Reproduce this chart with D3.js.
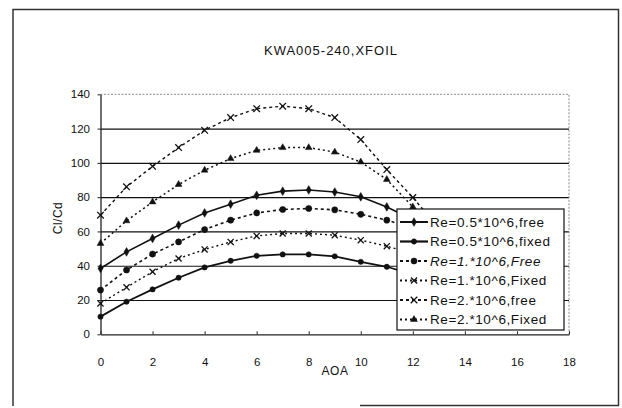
<!DOCTYPE html>
<html lang="en">
 <head>
  <meta charset="utf-8">
  <title>KWA005-240, XFOIL</title>
  <style>
    body { margin: 0; background: #fff; }
    text { font-family: Arial, "Liberation Sans", sans-serif; fill: #111; }
    .title { font-size: 13px; letter-spacing: 1px; text-anchor: middle; }
    .axis-title { font-size: 12px; text-anchor: middle; letter-spacing: 0.5px; }
    .axis text { font-size: 11.5px; font-family: Arial, "Liberation Sans", sans-serif; fill: #111; }
    .axis path, .axis line { stroke: #222; }
    .grid line { stroke: #111; stroke-width: 1.2; }
    .grid path { display: none; }
    .legend-text { font-size: 13.5px; letter-spacing: 0.6px; }
  </style>
 </head>
 <body>
  <div id="chart"></div>
  <script src="https://cdn.jsdelivr.net/npm/d3@7"></script>
  <script>

    // chart values
    var aoa = [0, 1, 2, 3, 4, 5, 6, 7, 8, 9, 10, 11, 12, 13];
    var xTicks = [0, 2, 4, 6, 8, 10, 12, 14, 16, 18];
    var yTicks = [0, 20, 40, 60, 80, 100, 120, 140];

    var re05Free  = [38.4, 48.1, 55.9, 63.7, 70.8, 75.9, 81.1, 83.5, 84.2, 83.0, 80.2, 74.3, 67.0];
    var re05Fixed = [10.3, 19.0, 26.2, 33.0, 39.0, 42.9, 45.8, 46.6, 46.6, 45.5, 42.3, 39.4, 35.0];
    var re1Free   = [25.8, 37.5, 46.8, 53.9, 61.1, 66.6, 70.8, 72.8, 73.4, 72.6, 70.0, 66.6, 62.0];
    var re1Fixed  = [18.0, 27.4, 36.5, 44.2, 49.5, 53.9, 57.4, 58.8, 58.8, 57.8, 54.9, 51.4, 47.0];
    var re2Free   = [69.5, 86.0, 98.0, 108.9, 119.0, 126.4, 131.6, 133.1, 131.6, 126.4, 113.6, 96.1, 79.8, 62.0];
    var re2Fixed  = [53.0, 66.2, 77.2, 87.4, 95.7, 102.5, 107.3, 108.9, 108.9, 106.3, 100.5, 90.3, 74.3, 57.0];

    var seriesNames = ["Re=0.5*10^6,free", "Re=0.5*10^6,fixed", "Re=1.*10^6,Free",
                       "Re=1.*10^6,Fixed", "Re=2.*10^6,free", "Re=2.*10^6,Fixed"];

    var series = [
      {name: seriesNames[0], values: re05Free,  dash: null,  width: 1.6, symbol: d3.symbolDiamond,  size: 22, italic: false},
      {name: seriesNames[1], values: re05Fixed, dash: null,  width: 1.8, symbol: d3.symbolCircle,   size: 22, italic: false},
      {name: seriesNames[2], values: re1Free,   dash: "3,3", width: 1.6, symbol: d3.symbolCircle,   size: 30, italic: true},
      {name: seriesNames[3], values: re1Fixed,  dash: "2,3", width: 1.4, symbol: d3.symbolX,        size: 26, italic: false},
      {name: seriesNames[4], values: re2Free,   dash: "3,3", width: 1.4, symbol: d3.symbolX,        size: 30, italic: false},
      {name: seriesNames[5], values: re2Fixed,  dash: "2,3", width: 1.5, symbol: d3.symbolTriangle, size: 20, italic: false}
    ];

    var W = 622, H = 408;
    var margin = {top: 94.3, left: 100.5},
        width = 468.5,
        height = 240;

    var svg = d3.select("#chart")
                .append("svg")
                .attr("width", W)
                .attr("height", H);

    svg.append("rect")
       .attr("width", W)
       .attr("height", H)
       .attr("fill", "#fff");

    // outer frame (bottom edge only partly visible in the scan)
    svg.append("path")
       .attr("d", "M13,406 L13,9.5 L618.5,9.5 L618.5,405.5 L360,405.5")
       .attr("fill", "none")
       .attr("stroke", "#333")
       .attr("stroke-width", 1.5);

    svg.append("text")
       .classed("title", true)
       .attr("x", 331)
       .attr("y", 55)
       .text("KWA005-240,XFOIL");

    var plt = svg.append("g")
                 .attr("transform", "translate(" + margin.left + "," + margin.top + ")");

    var xScale = d3.scaleLinear().domain([0, 18]).range([0, width]);
    var yScale = d3.scaleLinear().domain([0, 140]).range([height, 0]);

    // gridlines 20..120
    plt.append("g")
       .attr("class", "grid")
       .call(d3.axisLeft(yScale)
               .tickValues(yTicks.slice(1, -1))
               .tickSize(-width)
               .tickFormat(""));

    // plot area border (top and right, dotted grey)
    plt.append("path")
       .attr("d", "M0," + yScale(140) + " H" + width + " V" + height)
       .attr("fill", "none")
       .attr("stroke", "#888")
       .attr("stroke-width", 1)
       .attr("stroke-dasharray", "2,1.5");

    plt.append("g")
       .attr("class", "x axis")
       .attr("transform", "translate(0," + height + ")")
       .call(d3.axisBottom(xScale)
               .tickValues(xTicks)
               .tickSize(-3)
               .tickPadding(23.6)
               .tickSizeOuter(0));

    plt.append("g")
       .attr("class", "y axis")
       .call(d3.axisLeft(yScale)
               .tickValues(yTicks)
               .tickSize(3)
               .tickPadding(7.5)
               .tickSizeOuter(0));

    plt.selectAll(".axis path").attr("stroke-width", 1.3);

    svg.append("text")
       .classed("axis-title", true)
       .attr("x", 335)
       .attr("y", 375)
       .text("AOA");

    svg.append("text")
       .classed("axis-title", true)
       .attr("transform", "translate(62,218) rotate(-90)")
       .text("Cl/Cd");

    var line = d3.line()
                 .x(function(d){ return xScale(d.x); })
                 .y(function(d){ return yScale(d.y); });

    series.forEach(function(s){
      var pts = s.values.map(function(v, i){ return {x: aoa[i], y: v}; });

      plt.append("path")
         .datum(pts)
         .attr("d", line)
         .attr("fill", "none")
         .attr("stroke", "#111")
         .attr("stroke-width", s.width)
         .attr("stroke-dasharray", s.dash);

      var sym = d3.symbol().type(s.symbol).size(s.size);
      var isStroke = (s.symbol === d3.symbolX);

      plt.selectAll(null)
         .data(pts)
         .enter()
         .append("path")
         .attr("transform", function(d){
            return "translate(" + xScale(d.x) + "," + yScale(d.y) + ")";
         })
         .attr("d", sym)
         .attr("fill", isStroke ? "none" : "#111")
         .attr("stroke", "#111")
         .attr("stroke-width", isStroke ? 1.3 : 0.5);
    });

    // legend
    var legend = svg.append("g").attr("transform", "translate(397,209)");

    legend.append("rect")
          .attr("width", 167)
          .attr("height", 121)
          .attr("fill", "#fff")
          .attr("stroke", "#111")
          .attr("stroke-width", 1.2);

    var rows = legend.selectAll("g.row")
                     .data(series)
                     .enter()
                     .append("g")
                     .attr("class", "row")
                     .attr("transform", function(d, i){
                        return "translate(0," + (13 + i * 19.5) + ")";
                     });

    rows.append("line")
        .attr("x1", 3)
        .attr("x2", 31)
        .attr("stroke", "#111")
        .attr("stroke-width", function(d){ return d.width + 0.4; })
        .attr("stroke-dasharray", function(d){ return d.dash; });

    rows.append("path")
        .attr("transform", "translate(17,0)")
        .attr("d", function(d){ return d3.symbol().type(d.symbol).size(d.size)(); })
        .attr("fill", function(d){ return d.symbol === d3.symbolX ? "none" : "#111"; })
        .attr("stroke", "#111")
        .attr("stroke-width", function(d){ return d.symbol === d3.symbolX ? 1.3 : 0.5; });

    rows.append("text")
        .classed("legend-text", true)
        .attr("x", 33)
        .attr("dy", "0.36em")
        .style("font-style", function(d){ return d.italic ? "italic" : "normal"; })
        .text(function(d){ return d.name; });

  </script>
 </body>
</html>
